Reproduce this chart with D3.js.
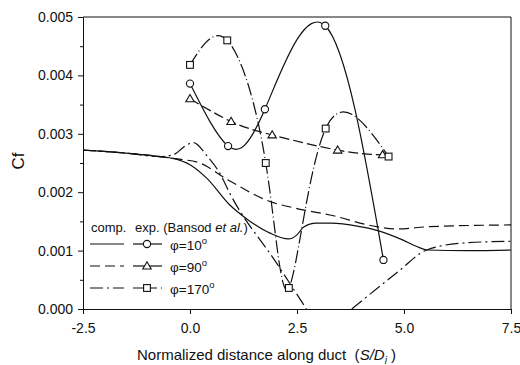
<!DOCTYPE html>
<html>
<head>
<meta charset="utf-8">
<script src="https://cdn.jsdelivr.net/npm/d3@7"></script>
<style>
  body { margin: 0; background: #fff; }
  svg text { font-family: "Liberation Sans", Arial, sans-serif; fill: #111; white-space: pre; }
  .ln { fill: none; stroke: #111; stroke-width: 1.2; }
</style>
</head>
<body>
<svg id="chart" width="520" height="365"></svg>
<script>
// computed curves (x = S/Di, y = Cf); null marks a gap where the curve leaves the plot
var compX10 = [-2.5, -1.5, -0.7, -0.4, 0.0, 0.39, 0.93, 1.35, 1.87, 2.3, 2.5, 2.65, 2.95, 3.3, 3.97, 4.3, 4.98, 5.3, 5.55, 6.5, 7.5];
var compY10 = [0.00272, 0.00267, 0.00261, 0.00258, 0.00247, 0.00224, 0.00178, 0.00153, 0.0013, 0.0012, 0.00127, 0.0014, 0.00147, 0.00147, 0.00141, 0.00136, 0.00118, 0.00107, 0.00101, 0.001, 0.00101];
var compX90 = [-2.5, -1.5, -0.7, -0.3, 0.23, 0.89, 1.87, 2.5, 3.27, 4.36, 4.83, 5.6, 7.5];
var compY90 = [0.00272, 0.00267, 0.00261, 0.00257, 0.0025, 0.00221, 0.00184, 0.00172, 0.00161, 0.00141, 0.00137, 0.00141, 0.00144];
var compX170 = [-2.5, -1.5, -0.7, -0.39, -0.1, 0.08, 0.39, 0.7, 0.93, 2.02, 2.72, 3.2, 3.78, 4.83, 5.53, 6.39, 7.5];
var compY170 = [0.00272, 0.00267, 0.00261, 0.00264, 0.0028, 0.00285, 0.00263, 0.00232, 0.00198, 0.00079, 0.0, null, 0.0, 0.00062, 0.00101, 0.00113, 0.00116];

// experiment (Bansod et al.)
var expX10 = [0.0, 0.89, 1.75, 3.16, 4.52];
var expY10 = [0.00386, 0.00279, 0.00342, 0.00485, 0.00084];
var expX90 = [0.0, 0.96, 1.92, 3.45, 4.5];
var expY90 = [0.0036, 0.00321, 0.00298, 0.00272, 0.00264];
var expX170 = [0.0, 0.87, 1.77, 2.31, 3.17, 4.64];
var expY170 = [0.00418, 0.0046, 0.0025, 0.00036, 0.00309, 0.00261];

var xTicks = [-2.5, 0.0, 2.5, 5.0, 7.5];
var yTicks = [0.000, 0.001, 0.002, 0.003, 0.004, 0.005];
var yMinor = [0.0005, 0.0015, 0.0025, 0.0035, 0.0045];
var seriesNames = ["\u03c6=10", "\u03c6=90", "\u03c6=170"];

var margin = { top: 17, right: 9, bottom: 56, left: 83 };
var svgWidth = 520, svgHeight = 365;
var width = svgWidth - margin.left - margin.right;
var height = svgHeight - margin.top - margin.bottom;

var svg = d3.select("#chart");
var g = svg.append("g").attr("transform", "translate(" + [margin.left, margin.top] + ")");

var x = d3.scaleLinear().domain([-2.5, 7.5]).range([0, width]);
var y = d3.scaleLinear().domain([0, 0.005]).range([height, 0]);

function zip(xs, ys) {
  return xs.map(function (v, i) { return { x: v, y: ys[i] }; });
}

g.append("clipPath").attr("id", "plotClip")
  .append("rect").attr("width", width).attr("height", height);

var plot = g.append("g").attr("clip-path", "url(#plotClip)");

var lineStyles = ["none", "10,5", "13,4,2,4"];
var expStyles = ["none", "10,4", "13,3,1,3"];

var smooth = d3.line()
  .defined(function (d) { return d.y != null; })
  .x(function (d) { return x(d.x); })
  .y(function (d) { return y(d.y); })
  .curve(d3.curveMonotoneX);

var spline = d3.line()
  .x(function (d) { return x(d.x); })
  .y(function (d) { return y(d.y); })
  .curve(d3.curveNatural);

var comp = [zip(compX10, compY10), zip(compX90, compY90), zip(compX170, compY170)];
var exp = [zip(expX10, expY10), zip(expX90, expY90), zip(expX170, expY170)];

comp.forEach(function (pts, i) {
  plot.append("path").attr("class", "ln")
    .attr("d", smooth(pts))
    .style("stroke-dasharray", lineStyles[i]);
});
exp.forEach(function (pts, i) {
  plot.append("path").attr("class", "ln")
    .attr("d", spline(pts))
    .style("stroke-dasharray", expStyles[i]);
});

function marker(sel, kind, cx, cy) {
  if (kind === 0) {
    sel.append("circle").attr("cx", cx).attr("cy", cy).attr("r", 3.6)
      .attr("fill", "#fff").attr("stroke", "#111").attr("stroke-width", 1.1);
  } else if (kind === 1) {
    var s = 4.2;
    sel.append("path")
      .attr("d", "M" + [cx, cy - s] + "L" + [cx + s, cy + s * 0.7] + "L" + [cx - s, cy + s * 0.7] + "Z")
      .attr("fill", "#fff").attr("stroke", "#111").attr("stroke-width", 1.1);
  } else {
    sel.append("rect").attr("x", cx - 3.4).attr("y", cy - 3.4).attr("width", 6.8).attr("height", 6.8)
      .attr("fill", "#fff").attr("stroke", "#111").attr("stroke-width", 1.1);
  }
}

exp.forEach(function (pts, i) {
  pts.forEach(function (d) { marker(g, i, x(d.x), y(d.y)); });
});

// frame
g.append("line").attr("x1", 0).attr("x2", width).attr("y1", 0).attr("y2", 0).attr("stroke", "#111");
g.append("line").attr("x1", width).attr("x2", width).attr("y1", 0).attr("y2", height).attr("stroke", "#111");

// axes
var fmtX = function (d) { return d3.format(".1f")(d).replace("\u2212", "-"); };
var xAxis = d3.axisBottom(x).tickValues(xTicks).tickFormat(fmtX).tickSizeInner(5).tickSizeOuter(0);
var xg = g.append("g").attr("transform", "translate(0," + height + ")").call(xAxis);
xg.selectAll("text").style("font-size", "14px").attr("dy", "1.15em");

var yAxis = d3.axisLeft(y).tickValues(yTicks).tickFormat(d3.format(".3f")).tickSizeInner(5).tickSizeOuter(0);
var yg = g.append("g").call(yAxis);
yg.selectAll("text").style("font-size", "14px").attr("x", -10);

g.append("g").call(d3.axisLeft(y).tickValues(yMinor).tickFormat("").tickSizeInner(3).tickSizeOuter(0))
  .select(".domain").remove();

g.selectAll(".domain, .tick line").attr("stroke", "#111");

// axis titles
svg.append("text")
  .attr("transform", "translate(" + [24, 161] + ") rotate(-90)")
  .attr("text-anchor", "middle")
  .style("font-size", "17px")
  .text("Cf");

var xt = svg.append("text")
  .attr("x", 137).attr("y", 360)
  .style("font-size", "15px");
xt.append("tspan").text("Normalized distance along duct  (");
xt.append("tspan").style("font-style", "italic").text("S/D");
xt.append("tspan").style("font-style", "italic").style("font-size", "10px").attr("dy", 4).text("i");
xt.append("tspan").attr("dy", -4).text(" )");

// legend
var lg = svg.append("g");
var head = lg.append("text").attr("y", 232).style("font-size", "13px");
head.append("tspan").attr("x", 91).text("comp.");
head.append("tspan").attr("x", 135).text("exp. (Bansod ");
head.append("tspan").style("font-style", "italic").text("et al.");
head.append("tspan").text(")");

var rowY = [244, 266, 288];
seriesNames.forEach(function (name, i) {
  var yy = rowY[i];
  lg.append("line").attr("class", "ln")
    .attr("x1", 90).attr("x2", 124).attr("y1", yy).attr("y2", yy)
    .style("stroke-dasharray", lineStyles[i]);
  lg.append("line").attr("class", "ln")
    .attr("x1", 133).attr("x2", 162).attr("y1", yy).attr("y2", yy)
    .style("stroke-dasharray", i === 2 ? "10,4" : "none");
  marker(lg, i, 147, yy);
  var t = lg.append("text").attr("x", 170).attr("y", yy + 6).style("font-size", "13.5px");
  t.append("tspan").text(name);
  t.append("tspan").attr("dy", -6).style("font-size", "9.5px").text("o");
});
</script>
</body>
</html>
